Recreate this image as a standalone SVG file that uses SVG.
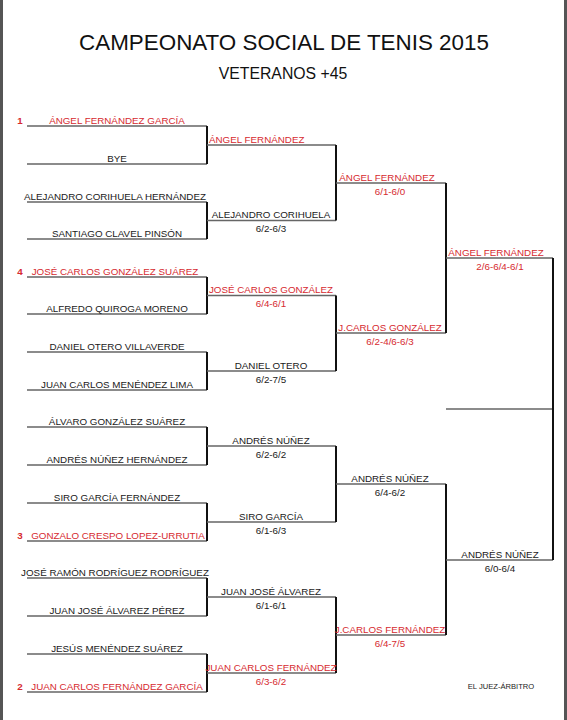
<svg xmlns="http://www.w3.org/2000/svg" width="567" height="720" viewBox="0 0 567 720">
<style>
text{font-family:"Liberation Sans",Arial,sans-serif;font-size:9.8px;fill:#1a1a1a;text-anchor:middle}
.r{fill:#d62a30}
.seed{font-weight:bold;fill:#d62a30}
.t{font-size:22.4px;fill:#111}
.st{font-size:15.8px;fill:#111}
.j{font-size:7.6px}
.h{stroke:#666;stroke-width:1.5;fill:none}
.v{stroke:#111;stroke-width:2;fill:none}
</style>
<rect x="0" y="0" width="567" height="720" fill="#fff"/>
<rect x="0" y="0" width="3" height="720" fill="#555"/>
<rect x="564" y="0" width="3" height="720" fill="#555"/>
<g id="title">
<text class="t" x="284" y="50">CAMPEONATO SOCIAL DE TENIS 2015</text>
<text class="st" x="283" y="79">VETERANOS +45</text>
</g>
<g id="connectors">
<path class="h" d="M27 126H207M27 164H207M27 202H207M27 239H207M27 277H207M27 314H207M27 352H207M27 390H207M27 427H207M27 465H207M27 503H207M27 541H207M27 578H207M27 616H207M27 654H207M27 692H207"/>
<path class="v" d="M207 126V164M207 202V239M207 277V314M207 352V390M207 427V465M207 503V541M207 578V616M207 654V692"/>
<path class="h" d="M207 145H336M207 220.5H336M207 295.5H336M207 371H336M207 446H336M207 522H336M207 597H336M207 673H336"/>
<path class="v" d="M336 145V220.5M336 295.5V371M336 446V522M336 597V673"/>
<path class="h" d="M336 183H446M336 333H446M336 484H446M336 635H446"/>
<path class="v" d="M446 183V333M446 484V635"/>
<path class="h" d="M446 258H553M446 560H553M446 409H553"/>
<path class="v" d="M553 258V560"/>
</g>
<g id="r1">
<text class="seed" x="20" y="123.5">1</text>
<text class="r" x="117" y="123.5">ÁNGEL FERNÁNDEZ GARCÍA</text>
<text x="117" y="161.5">BYE</text>
<text x="115" y="199.5">ALEJANDRO CORIHUELA HERNÁNDEZ</text>
<text x="117" y="236.5">SANTIAGO CLAVEL PINSÓN</text>
<text class="seed" x="20" y="274.5">4</text>
<text class="r" x="115" y="274.5">JOSÉ CARLOS GONZÁLEZ SUÁREZ</text>
<text x="117" y="311.5">ALFREDO QUIROGA MORENO</text>
<text x="117" y="349.5">DANIEL OTERO VILLAVERDE</text>
<text x="117" y="387.5">JUAN CARLOS MENÉNDEZ LIMA</text>
<text x="117" y="424.5">ÁLVARO GONZÁLEZ SUÁREZ</text>
<text x="117" y="462.5">ANDRÉS NÚÑEZ HERNÁNDEZ</text>
<text x="117" y="500.5">SIRO GARCÍA FERNÁNDEZ</text>
<text class="seed" x="20" y="538.5">3</text>
<text class="r" x="118" y="538.5">GONZALO CRESPO LOPEZ-URRUTIA</text>
<text x="115" y="575.5">JOSÉ RAMÓN RODRÍGUEZ RODRÍGUEZ</text>
<text x="117" y="613.5">JUAN JOSÉ ÁLVAREZ PÉREZ</text>
<text x="117" y="651.5">JESÚS MENÉNDEZ SUÁREZ</text>
<text class="seed" x="20" y="689.5">2</text>
<text class="r" x="117" y="689.5">JUAN CARLOS FERNÁNDEZ GARCÍA</text>
</g>
<g id="r2">
<text class="r" x="209" y="142.5" style="text-anchor:start">ÁNGEL FERNÁNDEZ</text>
<text x="271" y="218">ALEJANDRO CORIHUELA</text>
<text x="271" y="232">6/2-6/3</text>
<text class="r" x="271" y="293">JOSÉ CARLOS GONZÁLEZ</text>
<text class="r" x="271" y="307">6/4-6/1</text>
<text x="271" y="368.5">DANIEL OTERO</text>
<text x="271" y="382.5">6/2-7/5</text>
<text x="271" y="443.5">ANDRÉS NÚÑEZ</text>
<text x="271" y="457.5">6/2-6/2</text>
<text x="271" y="519.5">SIRO GARCÍA</text>
<text x="271" y="533.5">6/1-6/3</text>
<text x="271" y="594.5">JUAN JOSÉ ÁLVAREZ</text>
<text x="271" y="608.5">6/1-6/1</text>
<text class="r" x="271" y="670.5">JUAN CARLOS FERNÁNDEZ</text>
<text class="r" x="271" y="684.5">6/3-6/2</text>
</g>
<g id="r3">
<text class="r" x="387" y="180.5">ÁNGEL FERNÁNDEZ</text>
<text class="r" x="390" y="194.5">6/1-6/0</text>
<text class="r" x="390" y="330.5">J.CARLOS GONZÁLEZ</text>
<text class="r" x="390" y="344.5">6/2-4/6-6/3</text>
<text x="390" y="481.5">ANDRÉS NÚÑEZ</text>
<text x="390" y="495.5">6/4-6/2</text>
<text class="r" x="390" y="632.5">J.CARLOS FERNÁNDEZ</text>
<text class="r" x="390" y="646.5">6/4-7/5</text>
</g>
<g id="r4">
<text class="r" x="496" y="255.5">ÁNGEL FERNÁNDEZ</text>
<text class="r" x="500" y="269.5">2/6-6/4-6/1</text>
<text x="500" y="557.5">ANDRÉS NÚÑEZ</text>
<text x="500" y="571.5">6/0-6/4</text>
</g>
<g id="footer">
<text class="j" x="501" y="689">EL JUEZ-ÁRBITRO</text>
</g>
</svg>
